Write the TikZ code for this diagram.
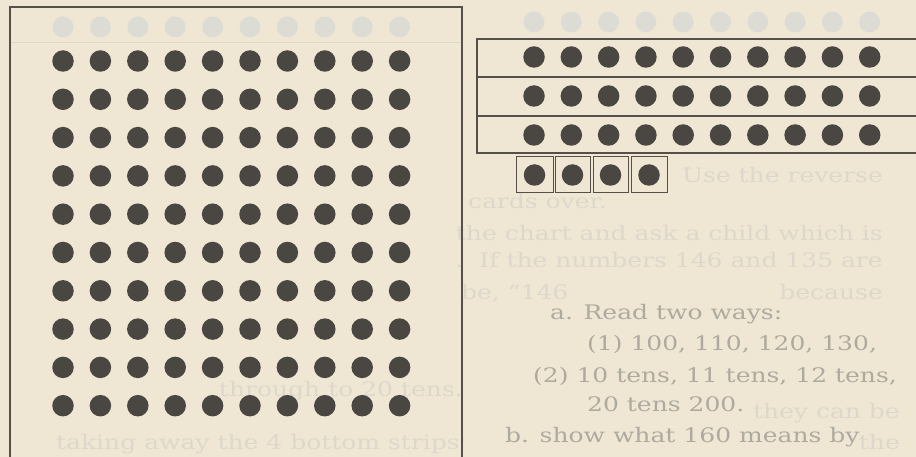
\documentclass[tikz,border=0pt]{standalone}
\usepackage{fontspec}
\newfontfamily\ghostfont{DejaVu Serif}
\definecolor{paper}{HTML}{EFE7D4}
\definecolor{ink}{HTML}{4A4641}
\definecolor{frame}{HTML}{55504A}
\definecolor{ghostdark}{HTML}{AFAAA0}
\definecolor{ghostlight}{HTML}{DDD8CB}
\definecolor{ghostdot}{HTML}{DCDCD4}
\newcommand{\wide}[1]{\scalebox{1.25}[1]{#1}}
\begin{document}
\begin{tikzpicture}[x=1pt,y=-1pt,
  dot/.style={circle,fill=ink,inner sep=0pt,minimum size=21.5pt},
  faintdot/.style={circle,fill=ghostdot,inner sep=0pt,minimum size=21pt},
  bigbox/.style={draw=frame,line width=1.3pt},
  stripbox/.style={draw=frame,line width=1.8pt},
  unitbox/.style={draw=frame,line width=1pt},
  darktext/.style={font=\ghostfont\fontsize{20}{24}\selectfont,text=ghostdark,inner sep=0pt},
  lighttext/.style={font=\ghostfont\fontsize{20}{24}\selectfont,text=ghostlight,inner sep=0pt}]
\fill[paper] (0,0) rectangle (916,457);
\useasboundingbox (0,0) rectangle (916,457);
\clip (0,0) rectangle (916,457);

% faint show-through from the other side of the page
\foreach \c in {0,...,9} {
  \node[faintdot] (fl-\c) at ({63+37.4*\c},27) {};
  \node[faintdot] (fr-\c) at ({534+37.3*\c},22) {};
}
\draw[ghostlight,line width=1pt] (10,43) -- (462,43);
\node[lighttext,anchor=base east] (t4) at (883,183) {\wide{Use the reverse}};
\node[lighttext,anchor=base east] (t5) at (607,209) {\wide{cards over.}};
\node[lighttext,anchor=base east] (t1) at (883,241) {\wide{the chart and ask a child which is}};
\node[lighttext,anchor=base east] (t2) at (883,268) {\wide{.\ \ If the numbers 146 and 135 are}};
\node[lighttext,anchor=base west] (t3a) at (461,299) {\wide{be, “146}};
\node[lighttext,anchor=base east] (t3b) at (883,299) {\wide{because}};
\node[lighttext,anchor=base east] (t6) at (463,396) {\wide{through to 20 tens.}};
\node[lighttext,anchor=base east] (t8) at (900,418) {\wide{they can be}};
\node[lighttext,anchor=base east] (t7) at (460,449) {\wide{taking away the 4 bottom strips}};
\node[lighttext,anchor=base east] (t9) at (900,449) {\wide{the}};

% text printed over the picture
\node[darktext,anchor=base west] (a) at (550,319) {\wide{a. Read two ways:}};
\node[darktext,anchor=base west] (one) at (587,350) {\wide{(1) 100, 110, 120, 130,}};
\node[darktext,anchor=base west] (two) at (533,382) {\wide{(2) 10 tens, 11 tens, 12 tens,}};
\node[darktext,anchor=base west] (tw) at (587,411) {\wide{20 tens 200.}};
\node[darktext,anchor=base west] (b) at (505,442) {\wide{b. show what 160 means by}};

% hundred square
\draw[bigbox] (10,7) rectangle (462,470);
\foreach \r in {0,...,9}
  \foreach \c in {0,...,9}
    \node[dot] (g-\r-\c) at ({63+37.4*\c},{61+38.3*\r}) {};

% ten strips
\draw[stripbox] (477,39) rectangle (930,77);
\draw[stripbox] (477,77) rectangle (930,116);
\draw[stripbox] (477,116) rectangle (930,153);
\foreach \s/\y in {0/57,1/96,2/135}
  \foreach \c in {0,...,9}
    \node[dot] (s-\s-\c) at ({534+37.3*\c},\y) {};

% unit squares
\foreach \i/\xa/\xb in {0/516/553,1/555/590,2/593/628,3/631/667} {
  \draw[unitbox] (\xa,157) rectangle (\xb,193);
  \node[dot] (u-\i) at ({(\xa+\xb)/2},175) {};
}
\end{tikzpicture}
\end{document}
